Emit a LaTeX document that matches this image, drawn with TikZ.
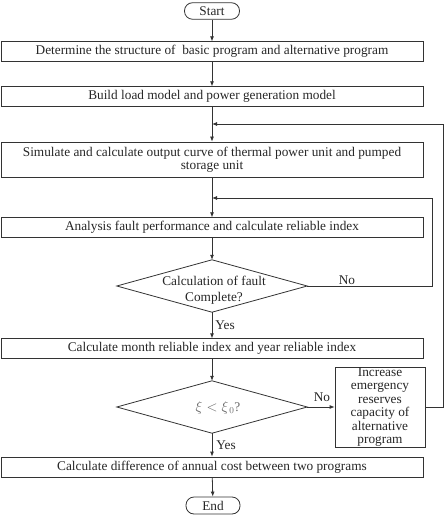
\documentclass[tikz,border=0pt]{standalone}
\usepackage{fontspec}
\setmainfont{Liberation Serif}
\usetikzlibrary{arrows.meta}
\begin{document}
\begin{tikzpicture}[x=1pt,y=-1pt,
  every node/.style={font=\fontsize{13.3}{13.4}\selectfont,text=black!85},
  line/.style={draw=black!80,line width=0.8pt},
  arr/.style={line,-{Latex[length=5pt,width=4pt]}},
  wbox/.style={line,rectangle,minimum width=422pt,inner sep=0pt,align=center},
  term/.style={line,rectangle,rounded corners=8pt,minimum width=55pt,minimum height=16.5pt,inner sep=0pt},
  dec/.style={rectangle,minimum width=190pt,minimum height=52pt,inner sep=0pt,align=center},
  lbl/.style={inner sep=0pt}]
\useasboundingbox (0,0) rectangle (446,518);
\node[term] (start) at (212,11) {Start};
\node[wbox,minimum height=19.5pt] (b1) at (212,51.5) {Determine the structure of \ basic program and alternative program};
\node[wbox,minimum height=19.5pt] (b2) at (212,96.5) {Build load model and power generation model};
\node[wbox,minimum height=35pt] (b3) at (212,159.5) {Simulate and calculate output curve of thermal power unit and pumped\\storage unit};
\node[wbox,minimum height=19.5pt] (b4) at (212,227.5) {Analysis fault performance and calculate reliable index};
\node[dec] (d1) at (212,286) {};
\node[lbl,align=center,font=\fontsize{13.3}{15.5}\selectfont] (d1t) at (214,290) {Calculation of fault\\Complete?};
\node[wbox,minimum height=19.5pt] (b5) at (212,348.5) {Calculate month reliable index and year reliable index};
\node[dec] (d2) at (212,407) {};
\node[lbl,text=black!60] (d2t) at (218,408) {$\xi < \xi_{\,0}$?};
\node[line,rectangle,minimum width=90pt,minimum height=80pt,inner sep=0pt,align=center] (b6) at (380,407) {Increase\\emergency\\reserves\\capacity of\\alternative\\program};
\node[wbox,minimum height=20pt] (b7) at (212,467) {Calculate difference of annual cost between two programs};
\node[term,minimum width=54pt,minimum height=17pt] (end) at (213,505.5) {End};

\draw[line] (d1.north) -- (d1.east) -- (d1.south) -- (d1.west) -- cycle;
\draw[line] (d2.north) -- (d2.east) -- (d2.south) -- (d2.west) -- cycle;

\coordinate (j1) at (212,124);
\coordinate (j2) at (212,198);
\coordinate (o1) at (443,407);
\coordinate (o2) at (443,124);
\coordinate (i1) at (432,286);
\coordinate (i2) at (432,198);

\draw[arr] (start) -- (b1);
\draw[arr] (b1) -- (b2);
\draw[arr] (b2) -- (b3);
\draw[arr] (b3) -- (b4);
\draw[arr] (b4) -- (d1.north);
\draw[arr] (d1.south) -- node[lbl,right=3pt,pos=0.5]{Yes} (b5);
\draw[arr] (b5) -- (d2.north);
\draw[arr] (d2.south) -- node[lbl,right=4pt,pos=0.5]{Yes} (b7);
\draw[arr] (b7) -- (end);
\draw[arr] (d1.east) -- (i1) -- (i2) -- (j2);
\draw[arr] (d2.east) -- (b6.west);
\draw[arr] (b6.east) -- (o1) -- (o2) -- (j1);
\node[lbl] (no1) at (347,280) {No};
\node[lbl] (no2) at (322,397) {No};
\end{tikzpicture}
\end{document}
